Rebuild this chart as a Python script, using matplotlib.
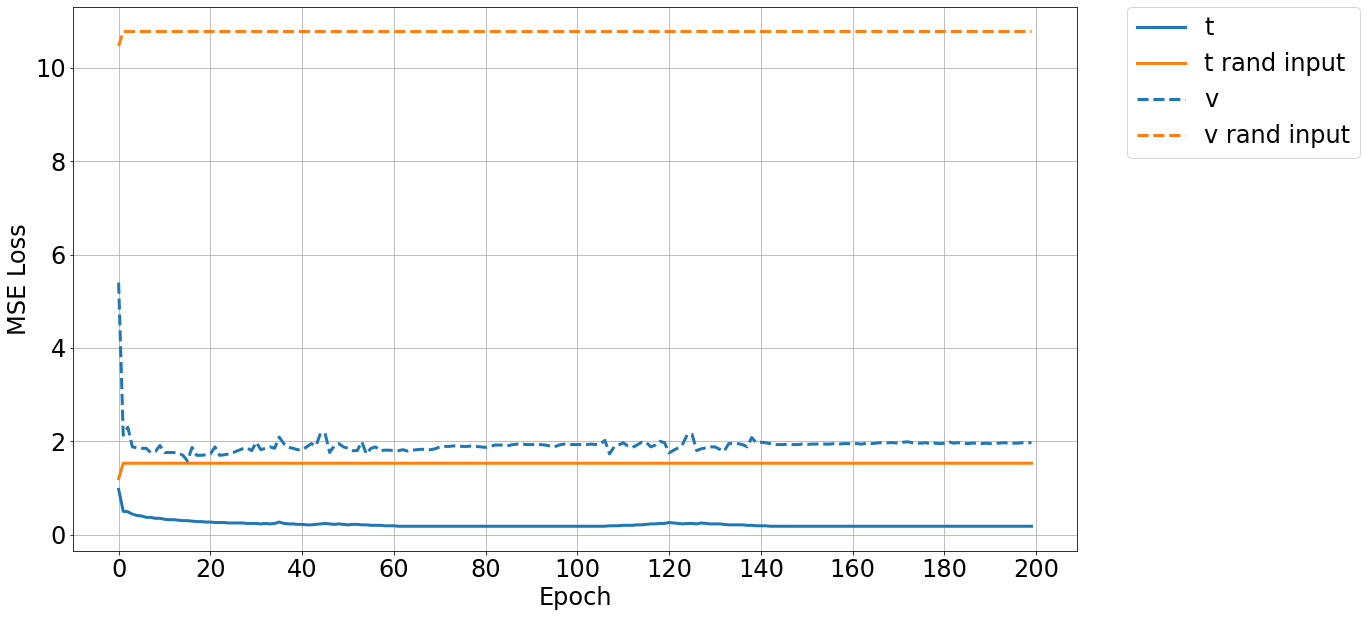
import matplotlib
matplotlib.use("Agg")
import matplotlib.pyplot as plt
import numpy as np

# losses per epoch
t_loss = [
    0.97, 0.50, 0.49, 0.44, 0.41, 0.40, 0.37, 0.37, 0.35, 0.35,
    0.33, 0.32, 0.32, 0.31, 0.30, 0.30, 0.29, 0.28, 0.28, 0.27,
    0.27, 0.26, 0.26, 0.26, 0.25, 0.25, 0.25, 0.25, 0.24, 0.24,
    0.24, 0.23, 0.24, 0.23, 0.24, 0.27, 0.24, 0.23, 0.23, 0.22,
    0.22, 0.21, 0.21, 0.22, 0.23, 0.24, 0.23, 0.22, 0.23, 0.22,
    0.21, 0.22, 0.22, 0.21, 0.21, 0.20, 0.20, 0.20, 0.19, 0.19,
    0.19, 0.18, 0.18, 0.18, 0.18, 0.18, 0.18, 0.18, 0.18, 0.18,
    0.18, 0.18, 0.18, 0.18, 0.18, 0.18, 0.18, 0.18, 0.18, 0.18,
    0.18, 0.18, 0.18, 0.18, 0.18, 0.18, 0.18, 0.18, 0.18, 0.18,
    0.18, 0.18, 0.18, 0.18, 0.18, 0.18, 0.18, 0.18, 0.18, 0.18,
    0.18, 0.18, 0.18, 0.18, 0.18, 0.18, 0.18, 0.19, 0.19, 0.19,
    0.20, 0.20, 0.20, 0.21, 0.21, 0.22, 0.23, 0.23, 0.24, 0.24,
    0.26, 0.25, 0.24, 0.23, 0.24, 0.24, 0.23, 0.25, 0.24, 0.23,
    0.23, 0.23, 0.22, 0.21, 0.21, 0.21, 0.21, 0.20, 0.20, 0.19,
    0.19, 0.19, 0.18, 0.18, 0.18, 0.18, 0.18, 0.18, 0.18, 0.18,
    0.18, 0.18, 0.18, 0.18, 0.18, 0.18, 0.18, 0.18, 0.18, 0.18,
    0.18, 0.18, 0.18, 0.18, 0.18, 0.18, 0.18, 0.18, 0.18, 0.18,
    0.18, 0.18, 0.18, 0.18, 0.18, 0.18, 0.18, 0.18, 0.18, 0.18,
    0.18, 0.18, 0.18, 0.18, 0.18, 0.18, 0.18, 0.18, 0.18, 0.18,
    0.18, 0.18, 0.18, 0.18, 0.18, 0.18, 0.18, 0.18, 0.18, 0.18,
]
t_rand = [1.20] + [1.53] * 199

v_loss = [
    5.40, 2.13, 2.30, 1.88, 1.86, 1.85, 1.85, 1.76, 1.78, 1.91,
    1.76, 1.76, 1.76, 1.75, 1.70, 1.58, 1.87, 1.70, 1.70, 1.71,
    1.73, 1.88, 1.70, 1.71, 1.73, 1.76, 1.80, 1.84, 1.86, 1.80,
    1.98, 1.82, 1.85, 1.88, 1.85, 2.09, 1.95, 1.87, 1.85, 1.82,
    1.82, 1.88, 1.95, 1.90, 2.17, 2.17, 1.76, 1.90, 1.95, 1.88,
    1.85, 1.80, 1.80, 1.99, 1.73, 1.85, 1.88, 1.80, 1.81, 1.81,
    1.80, 1.80, 1.82, 1.79, 1.81, 1.82, 1.83, 1.82, 1.82, 1.84,
    1.88, 1.89, 1.89, 1.90, 1.90, 1.89, 1.89, 1.90, 1.89, 1.88,
    1.87, 1.89, 1.92, 1.92, 1.92, 1.91, 1.93, 1.94, 1.94, 1.93,
    1.93, 1.93, 1.93, 1.92, 1.90, 1.88, 1.92, 1.94, 1.93, 1.93,
    1.93, 1.93, 1.93, 1.94, 1.93, 1.94, 2.02, 1.73, 1.88, 1.92,
    1.97, 1.90, 1.87, 1.92, 1.98, 1.98, 1.88, 1.92, 2.00, 1.97,
    1.75, 1.81, 1.86, 1.95, 2.15, 2.15, 1.80, 1.84, 1.86, 1.88,
    1.88, 1.83, 1.79, 1.95, 1.96, 1.95, 1.93, 1.88, 2.08, 1.97,
    1.98, 1.97, 1.95, 1.93, 1.93, 1.93, 1.94, 1.93, 1.93, 1.94,
    1.93, 1.94, 1.94, 1.95, 1.94, 1.94, 1.95, 1.94, 1.95, 1.95,
    1.95, 1.95, 1.94, 1.96, 1.95, 1.96, 1.97, 1.96, 1.97, 1.97,
    1.96, 1.98, 1.99, 1.97, 1.96, 1.96, 1.97, 1.94, 1.96, 1.95,
    1.96, 1.99, 1.96, 1.97, 1.96, 1.95, 1.96, 1.96, 1.95, 1.96,
    1.95, 1.96, 1.96, 1.97, 1.96, 1.96, 1.96, 1.97, 1.97, 1.97,
]
v_rand = [10.47] + [10.78] * 199

epochs = np.arange(len(t_loss))

fig = plt.figure(figsize=(1367 / 72, 617 / 72), dpi=72)
ax = fig.add_axes([0.0534, 0.107, 0.7346, 0.882])

ax.plot(epochs, t_loss, color="tab:blue", lw=3, label="t")
ax.plot(epochs, t_rand, color="tab:orange", lw=3, label="t rand input")
ax.plot(epochs, v_loss, color="tab:blue", lw=3, ls="--", label="v")
ax.plot(epochs, v_rand, color="tab:orange", lw=3, ls="--", label="v rand input")

ax.set_xticks(np.arange(0, 201, 20))
ax.set_xlabel("Epoch", fontsize=24)
ax.set_ylabel("MSE Loss", fontsize=24)
ax.tick_params(labelsize=24)
ax.grid(True)
ax.legend(fontsize=24, bbox_to_anchor=(1.05, 1), loc="upper left", borderaxespad=0)

fig.savefig("out.png", dpi=72)
